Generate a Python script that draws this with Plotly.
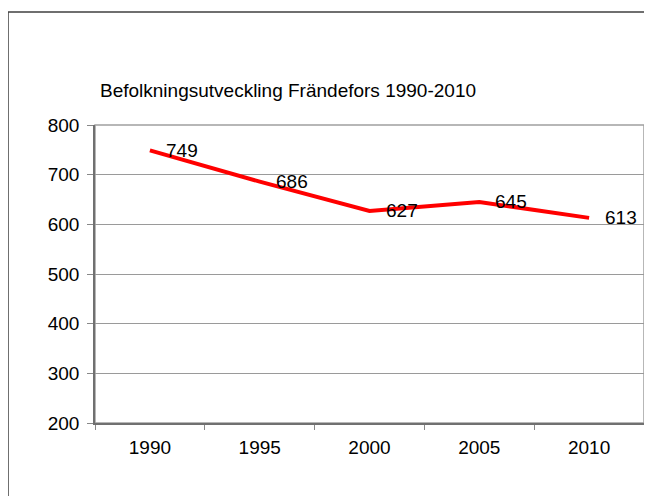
import plotly.graph_objects as go

years = ["1990", "1995", "2000", "2005", "2010"]
population = [749, 686, 627, 645, 613]

FONT = "Liberation Sans, Arial, sans-serif"

# the page adds an 8px body margin, so positions below are shifted by -8
L, T, W, H = 87, 117, 549, 298

fig = go.Figure()

fig.add_trace(
    go.Scatter(
        x=years,
        y=population,
        mode="lines",
        line=dict(color="#ff0000", width=4),
        showlegend=False,
        hoverinfo="x+y",
    )
)

# value labels to the right of each point
for i, val in enumerate(population):
    fig.add_annotation(
        x=i,
        y=val,
        text=str(val),
        showarrow=False,
        xanchor="left",
        yanchor="middle",
        xshift=14,
        font=dict(family=FONT, size=19, color="black"),
    )

# outer chart frame (runs off the right and bottom edge)
fig.add_shape(
    type="rect",
    xref="paper",
    yref="paper",
    x0=(0 - L) / W,
    x1=(680 - L) / W,
    y0=-(520 - T - H) / H,
    y1=1 + (T - 4) / H,
    line=dict(color="#404040", width=1.5),
    layer="below",
)

# top and right borders of the plot area
fig.add_shape(
    type="rect",
    xref="paper",
    yref="paper",
    x0=0,
    x1=1,
    y0=0,
    y1=1,
    line=dict(color="#a0a0a0", width=1.5),
    layer="below",
)

fig.update_layout(
    width=652,
    height=496,
    margin=dict(l=L, r=652 - L - W, t=T, b=496 - T - H),
    paper_bgcolor="white",
    plot_bgcolor="white",
    font=dict(family=FONT, size=19, color="black"),
    title=dict(
        text="Befolkningsutveckling Frändefors 1990-2010",
        x=(92 - L) / W,
        xref="paper",
        xanchor="left",
        y=1 - 82 / 496,
        yref="container",
        yanchor="middle",
        font=dict(family=FONT, size=19, color="black"),
    ),
    xaxis=dict(
        type="category",
        tickson="boundaries",
        ticks="outside",
        ticklen=5,
        tickcolor="#888888",
        showgrid=False,
        showline=True,
        linecolor="#707070",
        linewidth=1.5,
        range=[-0.5, 4.5],
        ticklabelstandoff=6,
    ),
    yaxis=dict(
        range=[200, 800],
        dtick=100,
        ticks="outside",
        ticklen=6,
        tickcolor="#888888",
        showgrid=True,
        gridcolor="#9a9a9a",
        gridwidth=1,
        showline=True,
        linecolor="#707070",
        linewidth=1.5,
        zeroline=False,
        ticklabelstandoff=4,
    ),
)

fig.write_html("out.html")
